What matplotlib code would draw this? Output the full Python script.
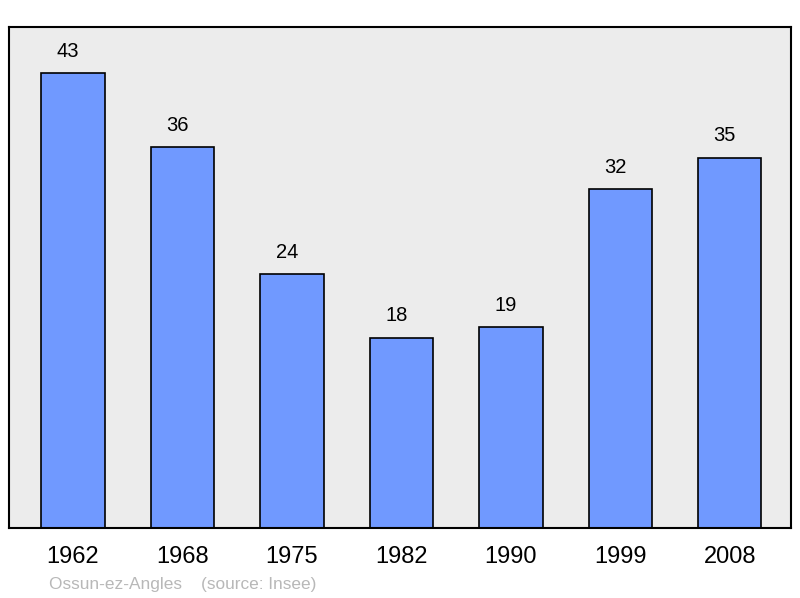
import matplotlib.pyplot as plt

years = ["1962", "1968", "1975", "1982", "1990", "1999", "2008"]
population = [43, 36, 24, 18, 19, 32, 35]

plt.rcParams['font.family'] = ['Liberation Sans', 'DejaVu Sans']

fig = plt.figure(figsize=(8, 5.98), dpi=100)
ax = fig.add_axes([9 / 800, 1 - 528 / 598, 782 / 800, 501 / 598])
ax.set_facecolor("#ececec")

x = range(len(years))
bars = ax.bar(x, population, width=0.58, color="#7099ff", edgecolor="black", linewidth=1.2)
for b, v in zip(bars, population):
    ax.annotate(str(v), (b.get_x() + b.get_width() / 2, v), xytext=(-3.6, 15.8),
                textcoords="offset points", ha="center", va="center", fontsize=14.5)

ax.set_xlim(-0.585, 6.56)
ax.set_ylim(0, 47.35)
ax.set_yticks([])
ax.set_xticks(list(x))
ax.set_xticklabels(years, fontsize=17)
ax.tick_params(axis="x", length=0, pad=13)
for s in ax.spines.values():
    s.set_linewidth(1.5)

fig.text(49 / 800, 1 - 584 / 598, "Ossun-ez-Angles    (source: Insee)", color="#b8b8b8",
         fontsize=12.4, va="center", ha="left")

fig.savefig("out.png", dpi=100)
